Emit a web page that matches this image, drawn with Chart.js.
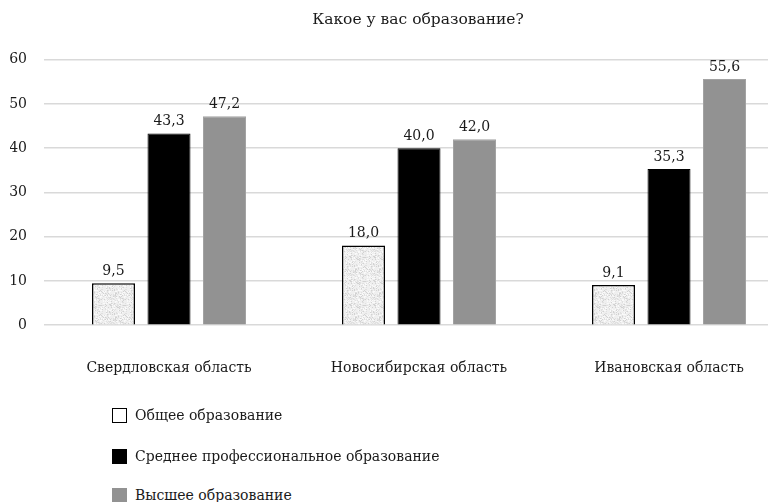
<!DOCTYPE html>
<html>
<head>
<meta charset="utf-8">
<script src="https://cdn.jsdelivr.net/npm/chart.js@4/dist/chart.umd.min.js"></script>
<style>
  html, body { margin: 0; padding: 0; background: #fff; overflow: hidden; width: 768px; height: 502px; }
  #wrap { position: absolute; left: 0; top: 0; width: 836px; height: 418px; }
  #legend { position: absolute; left: 112px; top: 0; font-family: "DejaVu Serif", serif; font-size: 14px; color: #1a1a1a; }
  .item { position: absolute; left: 0; white-space: nowrap; height: 15px; }
  .box { position: absolute; left: 0; top: 0; width: 15px; height: 15px; box-sizing: border-box; }
  .lbl { position: absolute; left: 23px; top: -1px; line-height: 17px; }
</style>
</head>
<body>
<div id="wrap"><canvas id="c"></canvas></div>
<div id="legend"></div>
<script>
const categories = ["Свердловская область", "Новосибирская область", "Ивановская область"];
const seriesNames = ["Общее образование", "Среднее профессиональное образование", "Высшее образование"];
const generalEdu = [9.5, 18.0, 9.1];
const vocationalEdu = [43.3, 40.0, 35.3];
const higherEdu = [47.2, 42.0, 55.6];
const yTicks = [0, 10, 20, 30, 40, 50, 60];
const chartTitle = "Какое у вас образование?";

const FONT = "DejaVu Serif";

// textured light fill (deterministic speckle)
function makePattern() {
  const c = document.createElement('canvas');
  c.width = 24; c.height = 24;
  const g = c.getContext('2d');
  g.fillStyle = '#efefef';
  g.fillRect(0, 0, 24, 24);
  for (let y = 0; y < 24; y++) {
    for (let x = 0; x < 24; x++) {
      const h = Math.sin(x * 12.9898 + y * 78.233) * 43758.5453;
      const f = h - Math.floor(h);
      if (f > 0.72) { g.fillStyle = f > 0.9 ? '#d2d2d2' : '#e0e0e0'; g.fillRect(x, y, 1, 1); }
      else if (f < 0.15) { g.fillStyle = '#fafafa'; g.fillRect(x, y, 1, 1); }
    }
  }
  return g.createPattern(c, 'repeat');
}
const pattern = makePattern();

const colors = [pattern, '#000000', '#929292'];
const borders = ['#000000', '#000000', '#a3a3a3'];

const valueLabels = {
  id: 'valueLabels',
  afterDatasetsDraw(chart) {
    const ctx = chart.ctx;
    ctx.save();
    ctx.font = '14px "' + FONT + '"';
    ctx.fillStyle = '#1a1a1a';
    ctx.textAlign = 'center';
    ctx.textBaseline = 'bottom';
    chart.data.datasets.forEach((ds, i) => {
      chart.getDatasetMeta(i).data.forEach((bar, j) => {
        ctx.fillText(ds.data[j].toFixed(1).replace('.', ','), bar.x, bar.y - 5);
      });
    });
    ctx.restore();
  }
};

// centre the title over the plot area
const titleOverPlot = {
  id: 'titleOverPlot',
  afterLayout(chart) {
    if (chart.titleBlock) {
      chart.titleBlock.left = chart.chartArea.left - 2;
      chart.titleBlock.right = chart.chartArea.right;
    }
  }
};

new Chart(document.getElementById('c'), {
  type: 'bar',
  data: {
    labels: categories,
    datasets: [
      { label: seriesNames[0], data: generalEdu, backgroundColor: colors[0], borderColor: borders[0], borderWidth: 1.5 },
      { label: seriesNames[1], data: vocationalEdu, backgroundColor: colors[1], borderColor: borders[1], borderWidth: 1 },
      { label: seriesNames[2], data: higherEdu, backgroundColor: colors[2], borderColor: borders[2], borderWidth: 1 }
    ]
  },
  options: {
    responsive: true,
    maintainAspectRatio: false,
    animation: false,
    devicePixelRatio: 1,
    categoryPercentage: 0.666,
    barPercentage: 0.775,
    layout: { padding: { left: 10, right: 42, top: 0, bottom: 14 } },
    plugins: {
      legend: { display: false },
      tooltip: { enabled: false },
      title: {
        display: true,
        text: chartTitle,
        color: '#1a1a1a',
        font: { family: FONT, size: 15.5, weight: 'normal' },
        padding: { top: 11, bottom: 30 }
      }
    },
    scales: {
      x: {
        grid: { display: false },
        border: { display: false },
        ticks: { color: '#1a1a1a', font: { family: FONT, size: 14 }, padding: 27, maxRotation: 0 },
        afterFit(scale) { scale.paddingLeft = 0; scale.paddingRight = 0; }
      },
      y: {
        min: 0, max: 60,
        afterBuildTicks(scale) { scale.ticks = yTicks.map(v => ({ value: v })); },
        afterFit(scale) { scale.width = 34; },
        grid: { color: '#d9d9d9', lineWidth: 1.5, drawTicks: false },
        border: { display: false },
        ticks: { color: '#1a1a1a', font: { family: FONT, size: 14 }, padding: 17 }
      }
    }
  },
  plugins: [valueLabels, titleOverPlot]
});

// legend
const leg = document.getElementById('legend');
const tops = [408, 449, 488];
const boxStyles = [
  'background:#fff;border:1.5px solid #000;',
  'background:#000;',
  'background:#929292;'
];
seriesNames.forEach((n, i) => {
  const d = document.createElement('div');
  d.className = 'item';
  d.style.top = tops[i] + 'px';
  d.innerHTML = '<span class="box" style="' + boxStyles[i] + '"></span><span class="lbl"></span>';
  d.querySelector('.lbl').textContent = n;
  leg.appendChild(d);
});
</script>
</body>
</html>
